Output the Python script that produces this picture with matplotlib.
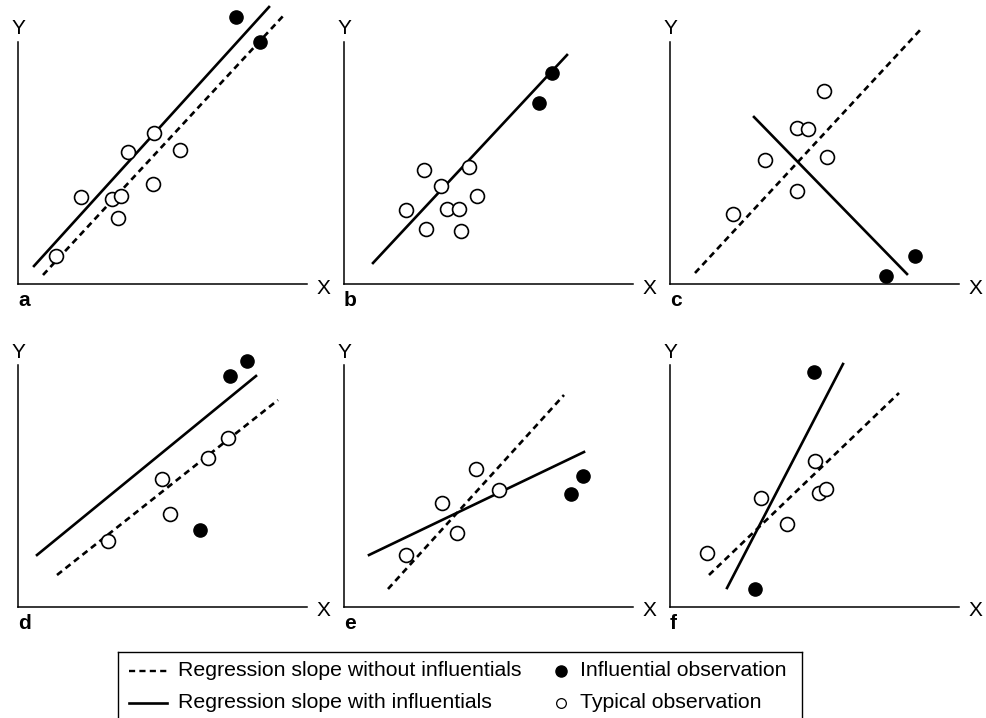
import matplotlib
matplotlib.use("Agg")
import matplotlib.pyplot as plt

plt.rcParams['font.family'] = ['Liberation Sans', 'DejaVu Sans']

# panel a
a_typ_x = [3.8, 6.3, 9.4, 10.3, 10.0, 11.0, 13.6, 16.2, 13.5]
a_typ_y = [2.8, 8.7, 8.5, 8.8, 6.6, 13.2, 15.1, 13.4, 10.0]
a_inf_x = [21.8, 24.2]
a_inf_y = [26.7, 24.2]
a_with_x, a_with_y = [1.6, 25.1], [1.8, 27.7]
a_wo_x, a_wo_y = [2.5, 26.6], [0.9, 26.9]

# panel b
b_typ_x = [8.0, 6.2, 8.2, 9.7, 10.3, 11.5, 11.7, 12.5, 13.3]
b_typ_y = [11.4, 7.4, 5.5, 9.8, 7.5, 7.5, 5.3, 11.7, 8.8]
b_inf_x = [20.8, 19.5]
b_inf_y = [21.1, 18.1]
b_with_x, b_with_y = [2.9, 22.3], [2.1, 22.9]
b_wo_x, b_wo_y = [], []

# panel c
c_typ_x = [6.3, 9.5, 12.7, 13.8, 15.4, 15.7, 12.7]
c_typ_y = [7.0, 12.4, 15.6, 15.5, 19.3, 12.7, 9.3]
c_inf_x = [21.6, 24.5]
c_inf_y = [0.8, 2.8]
c_with_x, c_with_y = [8.4, 23.7], [16.7, 1.0]
c_wo_x, c_wo_y = [2.5, 25.2], [1.1, 25.6]

# panel d
d_typ_x = [9.0, 14.4, 15.2, 19.0, 21.0]
d_typ_y = [6.6, 12.8, 9.3, 14.9, 16.9]
d_inf_x = [21.2, 22.9, 18.2]
d_inf_y = [23.1, 24.6, 7.7]
d_with_x, d_with_y = [1.9, 23.8], [5.2, 23.1]
d_wo_x, d_wo_y = [3.9, 26.0], [3.2, 20.7]

# panel e
e_typ_x = [6.2, 9.8, 11.3, 13.2, 15.5]
e_typ_y = [5.2, 10.4, 7.4, 13.8, 11.7]
e_inf_x = [22.7, 23.9]
e_inf_y = [11.3, 13.1]
e_with_x, e_with_y = [2.5, 24.0], [5.2, 15.5]
e_wo_x, e_wo_y = [4.4, 22.0], [1.8, 21.2]

# panel f
f_typ_x = [3.7, 9.1, 11.7, 14.5, 14.9, 15.6]
f_typ_y = [5.4, 10.9, 8.3, 14.6, 11.4, 11.8]
f_inf_x = [14.4, 8.5]
f_inf_y = [23.5, 1.8]
f_with_x, f_with_y = [5.7, 17.3], [1.9, 24.3]
f_wo_x, f_wo_y = [3.9, 22.9], [3.2, 21.4]

panels = [
    ("a", a_typ_x, a_typ_y, a_inf_x, a_inf_y, a_with_x, a_with_y, a_wo_x, a_wo_y),
    ("b", b_typ_x, b_typ_y, b_inf_x, b_inf_y, b_with_x, b_with_y, b_wo_x, b_wo_y),
    ("c", c_typ_x, c_typ_y, c_inf_x, c_inf_y, c_with_x, c_with_y, c_wo_x, c_wo_y),
    ("d", d_typ_x, d_typ_y, d_inf_x, d_inf_y, d_with_x, d_with_y, d_wo_x, d_wo_y),
    ("e", e_typ_x, e_typ_y, e_inf_x, e_inf_y, e_with_x, e_with_y, e_wo_x, e_wo_y),
    ("f", f_typ_x, f_typ_y, f_inf_x, f_inf_y, f_with_x, f_with_y, f_wo_x, f_wo_y),
]

W, H = 987, 718
fig = plt.figure(figsize=(W / 100, H / 100), dpi=100)

# axis origins in pixels (from top-left)
origins_x = [18, 344, 670]
origins_y = [284, 607]
ax_w, ax_h = 289, 242
dash = (0, (2.4, 1.7))

for i, (name, tx, ty, ix, iy, wx, wy, ox, oy) in enumerate(panels):
    x0 = origins_x[i % 3]
    y0 = origins_y[i // 3]
    ax = fig.add_axes([x0 / W, (H - y0) / H, ax_w / W, ax_h / H])
    ax.set_xlim(0, 28.9)
    ax.set_ylim(0, 24.2)
    ax.patch.set_visible(False)
    for s in ["top", "right"]:
        ax.spines[s].set_visible(False)
    for s in ["left", "bottom"]:
        ax.spines[s].set_linewidth(1.1)
    ax.set_xticks([])
    ax.set_yticks([])

    if ox:
        ax.plot(ox, oy, color="black", lw=1.9, linestyle=dash, clip_on=False, zorder=2)
    ax.plot(wx, wy, color="black", lw=1.9, clip_on=False, zorder=2)
    ax.plot(tx, ty, "o", ms=10, mfc="white", mec="black", mew=1.2, clip_on=False, zorder=3)
    ax.plot(ix, iy, "o", ms=9.5, mfc="black", mec="black", clip_on=False, zorder=3)

    ax.annotate("Y", xy=(0, 1), xycoords="axes fraction", xytext=(0, 13),
                textcoords="offset pixels", ha="center", va="center", fontsize=15)
    ax.annotate("X", xy=(1, 0), xycoords="axes fraction", xytext=(16, -4),
                textcoords="offset pixels", ha="center", va="center", fontsize=15)
    ax.annotate(name, xy=(0, 0), xycoords="axes fraction", xytext=(0, -7),
                textcoords="offset pixels", ha="left", va="top", fontsize=15,
                fontweight="bold")

# legend box, open at the bottom
lx0, lx1, ltop = 118, 802, 652
lg = fig.add_axes([lx0 / W, 0, (lx1 - lx0) / W, (H - ltop) / H])
lg.set_xlim(0, lx1 - lx0)
lg.set_ylim(0, H - ltop)
lg.spines["bottom"].set_visible(False)
for s in ["top", "left", "right"]:
    lg.spines[s].set_linewidth(1.0)
lg.set_xticks([])
lg.set_yticks([])

row1, row2 = H - 671, H - 703
lg.plot([11, 49], [row1, row1], color="black", lw=1.7, linestyle=(0, (2.6, 1.8)))
lg.plot([11, 49], [row2, row2], color="black", lw=1.9)
lg.text(60, row1, "Regression slope without influentials", va="center", fontsize=15.3)
lg.text(60, row2, "Regression slope with influentials", va="center", fontsize=15.3)
lg.plot([443], [row1], "o", ms=8, mfc="black", mec="black")
lg.plot([443], [row2], "o", ms=7, mfc="white", mec="black", mew=0.9)
lg.text(462, row1, "Influential observation", va="center", fontsize=15.3)
lg.text(462, row2, "Typical observation", va="center", fontsize=15.3)

fig.savefig("out.png", dpi=100)
